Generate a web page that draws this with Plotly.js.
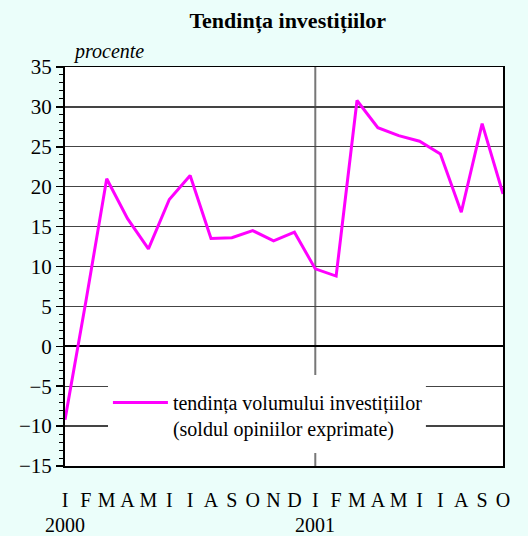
<!DOCTYPE html>
<html>
<head>
<meta charset="utf-8">
<script src="https://cdn.plot.ly/plotly-3.0.1.min.js"></script>
<style>html,body{margin:0;padding:0;background:#ebfefa;}#chart{width:528px;height:536px;}</style>
</head>
<body>
<div id="chart"></div>
<script>
const monthLabels = ["I","F","M","A","M","I","I","A","S","O","N","D","I","F","M","A","M","I","I","A","S","O"];
const investmentTrend = [-9.2, 5.6, 21.0, 16.0, 12.2, 18.4, 21.4, 13.5, 13.6, 14.5, 13.2, 14.3, 9.7, 8.8, 30.8, 27.4, 26.4, 25.7, 24.1, 16.8, 27.9, 19.1];
const yearLabels = ["2000", "2001"];
const yearPositions = [0, 12];
const seriesName = "tendința volumului investițiilor<br>(soldul opiniilor exprimate)";

const idx = monthLabels.map((_, i) => i);
const serif = "Liberation Serif, Times New Roman, serif";

const trace = {
  x: idx, y: investmentTrend, type: "scatter", mode: "lines",
  name: seriesName,
  line: {color: "#ff00ff", width: 3},
  hoverinfo: "skip"
};

const layout = {
  width: 528, height: 536,
  paper_bgcolor: "#ebfefa", plot_bgcolor: "#ffffff",
  margin: {l: 65, r: 25, t: 67, b: 70},
  font: {family: serif, size: 20, color: "#000"},
  title: {text: "<b>Tendința investițiilor</b>", font: {family: serif, size: 22, color: "#000"}, x: 0.545, xanchor: "center", y: 0.963, yanchor: "middle"},
  showlegend: true,
  legend: {x: 0.098, y: 0.208, xanchor: "left", yanchor: "top", bgcolor: "rgba(0,0,0,0)", borderwidth: 0,
           font: {family: serif, size: 20}, valign: "top", itemwidth: 55, tracegroupgap: 0},
  xaxis: {
    range: [0, 21], tickmode: "array", tickvals: idx, ticktext: monthLabels,
    showgrid: false, zeroline: false, showline: true, linecolor: "#000", linewidth: 1.5, mirror: true,
    ticks: "", ticklabelstandoff: 15, tickfont: {family: serif, size: 20}, fixedrange: true
  },
  yaxis: {
    range: [-15, 35], dtick: 5, tick0: 0, showgrid: true, gridcolor: "#444", gridwidth: 1.3,
    zeroline: true, zerolinecolor: "#000", zerolinewidth: 2,
    showline: true, linecolor: "#000", linewidth: 2, mirror: true,
    ticks: "outside", ticklen: 7, tickwidth: 1.5, tickcolor: "#000",
    minor: {dtick: 1, ticks: "outside", ticklen: 4, tickwidth: 1, tickcolor: "#000", showgrid: false},
    tickfont: {family: serif, size: 21}, fixedrange: true
  },
  shapes: [
    {type: "line", xref: "x", yref: "paper", x0: 12, x1: 12, y0: 0, y1: 1, layer: "below",
     line: {color: "#777", width: 2}},
    {type: "rect", xref: "paper", yref: "paper", x0: 0.0982, x1: 0.824, y0: 0.0326, y1: 0.228, layer: "above",
     fillcolor: "#ffffff", line: {width: 0}}
  ],
  annotations: [
    {text: "<i>procente</i>", xref: "paper", yref: "paper", x: 0.1, y: 1.0, xanchor: "center", yanchor: "bottom",
     yshift: 2, showarrow: false, font: {family: serif, size: 20}}
  ].concat(yearLabels.map((t, i) => ({
    text: t, xref: "x", yref: "paper", x: yearPositions[i], y: 0, yshift: -59, xanchor: "center", yanchor: "middle",
    showarrow: false, font: {family: serif, size: 20}
  })))
};

Plotly.newPlot("chart", [trace], layout, {displayModeBar: false, staticPlot: true});
</script>
</body>
</html>
